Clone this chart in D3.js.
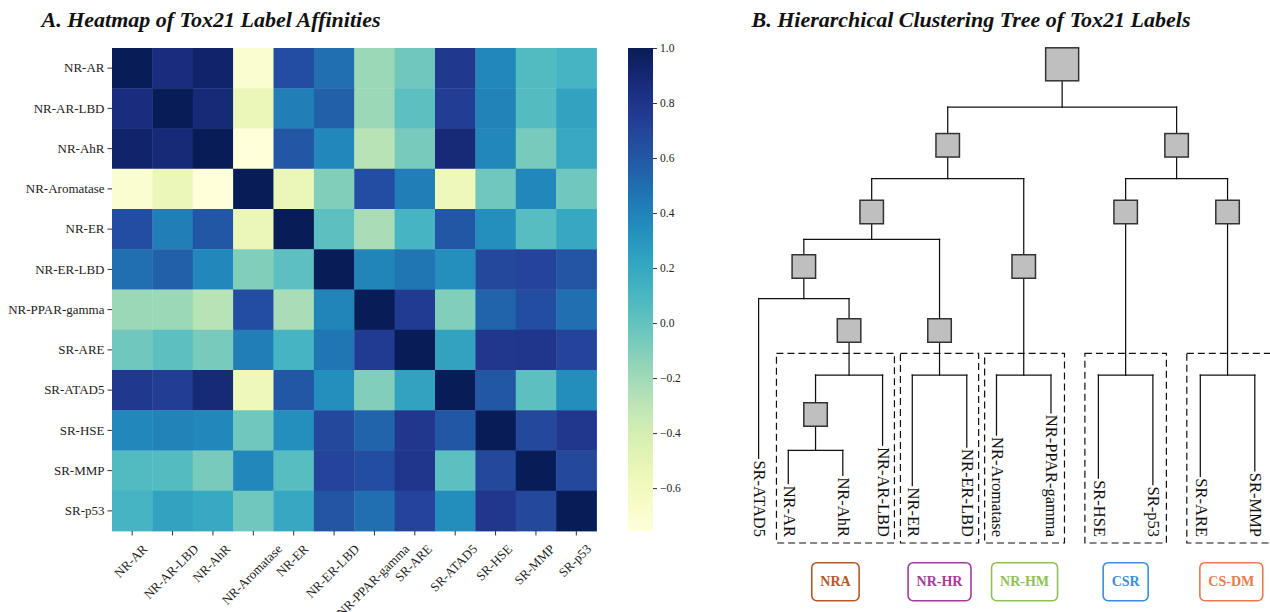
<!DOCTYPE html>
<html><head><meta charset="utf-8">
<script src="https://cdn.jsdelivr.net/npm/d3@7"></script>
<style>
html,body{margin:0;padding:0;background:#fff;}
svg{display:block;}
svg text{font-family:"Liberation Serif","Times New Roman",serif;}
</style></head><body>
<svg id="chart" width="1270" height="612"></svg>
<script>
// ---------------- DATA ----------------
const labels = ["NR-AR","NR-AR-LBD","NR-AhR","NR-Aromatase","NR-ER","NR-ER-LBD","NR-PPAR-gamma","SR-ARE","SR-ATAD5","SR-HSE","SR-MMP","SR-p53"];
const affinity = [
 [1.00,0.86,0.93,-0.70,0.65,0.49,-0.18,-0.04,0.77,0.38,0.07,0.12],
 [0.86,1.00,0.88,-0.54,0.42,0.56,-0.18,0.03,0.74,0.40,0.06,0.23],
 [0.93,0.88,1.00,-0.756,0.60,0.38,-0.28,-0.07,0.88,0.38,-0.07,0.19],
 [-0.70,-0.54,-0.756,1.00,-0.54,-0.10,0.65,0.42,-0.56,-0.04,0.38,-0.04],
 [0.65,0.42,0.60,-0.54,1.00,0.03,-0.23,0.12,0.60,0.34,0.05,0.20],
 [0.49,0.56,0.38,-0.10,0.03,1.00,0.39,0.46,0.34,0.68,0.70,0.61],
 [-0.18,-0.18,-0.28,0.65,-0.23,0.39,1.00,0.755,-0.10,0.54,0.65,0.49],
 [-0.04,0.03,-0.07,0.42,0.12,0.46,0.755,1.00,0.23,0.78,0.79,0.70],
 [0.77,0.74,0.88,-0.56,0.60,0.34,-0.10,0.23,1.00,0.60,0.03,0.35],
 [0.38,0.40,0.38,-0.04,0.34,0.68,0.54,0.78,0.60,1.00,0.68,0.78],
 [0.07,0.06,-0.07,0.38,0.05,0.70,0.65,0.79,0.03,0.68,1.00,0.68],
 [0.12,0.23,0.19,-0.04,0.20,0.61,0.49,0.70,0.35,0.78,0.68,1.00]
];
const colorbarTicks = [1.0,0.8,0.6,0.4,0.2,0.0,-0.2,-0.4,-0.6];
const clusterTree = [[[["SR-ATAD5",[["NR-AR","NR-AhR"],"NR-AR-LBD"]],["NR-ER","NR-ER-LBD"]],["NR-Aromatase","NR-PPAR-gamma"]],[["SR-HSE","SR-p53"],["SR-ARE","SR-MMP"]]];
const groupNames = ["NRA","NR-HR","NR-HM","CSR","CS-DM"];
const groupMembers = [["NR-AR","NR-AhR","NR-AR-LBD"],["NR-ER","NR-ER-LBD"],["NR-Aromatase","NR-PPAR-gamma"],["SR-HSE","SR-p53"],["SR-ARE","SR-MMP"]];
const groupColors = ["#b4582a","#a23b9a","#8dc252","#3a8fdc","#e97a4c"];
const titles = ["A. Heatmap of Tox21 Label Affinities","B. Hierarchical Clustering Tree of Tox21 Labels"];

// ---------------- SETUP ----------------
const svg = d3.select("#chart");
const serif = '"Liberation Serif","Times New Roman",serif';

svg.selectAll("text.title").data(titles).join("text")
  .attr("class","title")
  .attr("x",(d,i)=> i===0 ? 211 : 971)
  .attr("y",27)
  .attr("text-anchor","middle")
  .attr("font-family",serif)
  .attr("font-size",22).attr("font-weight","bold").attr("font-style","italic")
  .attr("fill","#111")
  .text(d=>d);

// ---------------- HEATMAP ----------------
const hm = {x0:112, x1:596.5, y0:48, y1:531};
const x = d3.scaleBand().domain(labels).range([hm.x0,hm.x1]);
const y = d3.scaleBand().domain(labels).range([hm.y0,hm.y1]);
const vext = d3.extent(affinity.flat());
const color = d3.scaleSequential(d3.interpolateYlGnBu).domain(vext);

const cells = [];
affinity.forEach((row,i)=>row.forEach((v,j)=>cells.push({r:labels[i],c:labels[j],v})));
svg.append("g").selectAll("rect").data(cells).join("rect")
  .attr("x",d=>x(d.c)).attr("y",d=>y(d.r))
  .attr("width",x.bandwidth()+0.4).attr("height",y.bandwidth()+0.4)
  .attr("fill",d=>color(d.v));

const yAxis = svg.append("g").attr("transform",`translate(${hm.x0},0)`)
  .call(d3.axisLeft(y).tickSize(4.5).tickPadding(3));
yAxis.attr("font-family",serif);
yAxis.select(".domain").remove();
yAxis.selectAll("text").attr("font-family",serif).attr("font-size",13).attr("fill","#222");
yAxis.selectAll("line").attr("stroke","#333");

const xAxis = svg.append("g").attr("transform",`translate(0,${hm.y1})`)
  .call(d3.axisBottom(x).tickSize(4.5));
xAxis.attr("font-family",serif);
xAxis.select(".domain").remove();
xAxis.selectAll("line").attr("stroke","#333");
xAxis.selectAll("text").attr("font-family",serif).attr("font-size",13).attr("fill","#222")
  .attr("text-anchor","middle").attr("dominant-baseline","central").attr("dy",null)
  .each(function(){
    const L = this.getComputedTextLength();
    const h = (L + 13) * Math.SQRT1_2;
    d3.select(this).attr("y",null).attr("transform",`translate(-1.5,${11 + h/2}) rotate(-45)`);
  });

// colorbar
const cb = {x:628, w:25};
const cbScale = d3.scaleLinear().domain(vext).range([hm.y1,hm.y0]);
const defs = svg.append("defs");
const grad = defs.append("linearGradient").attr("id","cbgrad").attr("x1",0).attr("y1",1).attr("x2",0).attr("y2",0);
grad.selectAll("stop").data(d3.range(0,1.0001,0.02)).join("stop")
  .attr("offset",t=>t).attr("stop-color",t=>color(vext[0]+t*(vext[1]-vext[0])));
svg.append("rect").attr("x",cb.x).attr("y",hm.y0).attr("width",cb.w).attr("height",hm.y1-hm.y0).attr("fill","url(#cbgrad)");
const cAxis = svg.append("g").attr("transform",`translate(${cb.x+cb.w},0)`)
  .call(d3.axisRight(cbScale).tickValues(colorbarTicks).tickFormat(d3.format(".1f")).tickSize(4).tickPadding(3));
cAxis.attr("font-family",serif);
cAxis.select(".domain").remove();
cAxis.selectAll("line").attr("stroke","#333");
cAxis.selectAll("text").attr("font-family",serif).attr("font-size",11.5).attr("fill","#222");

// ---------------- TREE ----------------
const root = d3.hierarchy(clusterTree, d => Array.isArray(d) ? d : null);
const groupOfLeaf = new Map();
groupMembers.forEach((m,gi)=>m.forEach(nm=>groupOfLeaf.set(nm,gi)));
groupMembers.forEach((m,gi)=>{
  const ls = root.leaves().filter(l=>m.includes(l.data));
  const lca = ls[0].ancestors().find(a=>ls.every(l=>l.ancestors().includes(a)));
  lca.group = gi;
});
const topBranch = n => n.ancestors().find(a=>a.depth===1);
function sep(a,b){
  if (a.parent === b.parent) return 1;
  const ga = groupOfLeaf.get(a.data), gb = groupOfLeaf.get(b.data);
  if (ga !== undefined && ga === gb) return 0.73;
  if (topBranch(a) === topBranch(b) && topBranch(a) === root.children[0]) return 0.545;
  return 0.87;
}
d3.cluster().nodeSize([1,1]).separation(sep)(root);
const leaves = root.leaves();
const xT = d3.scaleLinear().domain(d3.extent(leaves,d=>d.x)).range([758.6,1254.8]);

root.eachBefore(n=>{
  if (!n.parent) { n.level = 0; return; }
  const sib = n.parent.children.find(c=>c!==n);
  const pushed = n.group !== undefined && sib && sib.children && sib.group === undefined;
  n.level = n.parent.level + 1 + (pushed ? 1 : 0);
});
const levelY = d3.scaleLinear().domain([0,1,2,3,4,5]).range([64.3,145.3,212,266.5,330.5,414.5]);
const boxSize = n => n.depth === 0 ? 33 : 23.5;
const boxTop = n => levelY(n.level) - boxSize(n)/2;
const boxBottom = n => levelY(n.level) + boxSize(n)/2;
const groupBarY = 375, labelEndY = 537, dashTop = 353.3, dashBottom = 543;

const gT = svg.append("g");
const leafLabels = gT.selectAll("text.leaf").data(leaves).join("text")
  .attr("class","leaf")
  .attr("transform",d=>`translate(${xT(d.x)+0.8},${labelEndY}) rotate(90)`)
  .attr("text-anchor","end").attr("dominant-baseline","central")
  .attr("font-family",serif)
  .attr("font-size",16.5).attr("fill","#111")
  .text(d=>d.data);
leafLabels.each(function(d){ d.labelTop = labelEndY - this.getComputedTextLength(); });

const internal = root.descendants().filter(n=>n.children);
const barY = n => {
  if (n.group !== undefined) return groupBarY;
  const ic = n.children.filter(c=>c.children);
  if (ic.length) return (boxBottom(n) + d3.min(ic,boxTop))/2;
  return boxBottom(n) + 24;
};
const childTop = c => c.children ? boxTop(c) : c.labelTop - 2;
const segs = [];
internal.forEach(n=>{
  const nx = xT(n.x), by = barY(n);
  segs.push([nx,boxBottom(n),nx,by]);
  const cx = n.children.map(c=>xT(c.x));
  segs.push([d3.min(cx),by,d3.max(cx),by]);
  n.children.forEach(c=>segs.push([xT(c.x),by,xT(c.x),childTop(c)]));
});
gT.append("g").selectAll("line").data(segs).join("line")
  .attr("x1",d=>d[0]).attr("y1",d=>d[1]).attr("x2",d=>d[2]).attr("y2",d=>d[3])
  .attr("stroke","#111").attr("stroke-width",1.25).attr("stroke-linecap","square");
gT.append("g").selectAll("rect").data(internal).join("rect")
  .attr("x",n=>xT(n.x)-boxSize(n)/2).attr("y",boxTop)
  .attr("width",boxSize).attr("height",boxSize)
  .attr("fill","#bfbfbf").attr("stroke","#333").attr("stroke-width",1.5);

// dashed group boxes + legend
const order = leaves.slice().sort((a,b)=>a.x-b.x);
const padFor = gap => gap === undefined ? 21 : Math.min(13.5, gap/2 - 3);
const groupBoxes = groupMembers.map((m,gi)=>{
  const idx = order.map((l,i)=>m.includes(l.data)?i:-1).filter(i=>i>=0);
  const f = order[idx[0]], l = order[idx[idx.length-1]];
  const prev = order[idx[0]-1], next = order[idx[idx.length-1]+1];
  const left = xT(f.x) - padFor(prev ? xT(f.x)-xT(prev.x) : undefined);
  const right = xT(l.x) + padFor(next ? xT(next.x)-xT(l.x) : undefined);
  return {gi,left,right};
});
gT.append("g").selectAll("rect").data(groupBoxes).join("rect")
  .attr("x",d=>d.left).attr("y",dashTop).attr("width",d=>d.right-d.left).attr("height",dashBottom-dashTop)
  .attr("fill","none").attr("stroke","#111").attr("stroke-width",1.2).attr("stroke-dasharray","7,4");

const lg = svg.append("g").selectAll("g").data(groupBoxes).join("g")
  .attr("transform",d=>`translate(${(d.left+d.right)/2},581.7)`);
const lgText = lg.append("text").attr("text-anchor","middle").attr("dominant-baseline","central")
  .attr("font-family",serif)
  .attr("font-size",14).attr("font-weight","bold")
  .attr("fill",d=>groupColors[d.gi]).text(d=>groupNames[d.gi]);
lgText.each(function(d){ d.tw = this.getComputedTextLength(); });
lg.insert("rect","text")
  .attr("x",d=>-(d.tw/2+8.5)).attr("y",-19).attr("width",d=>d.tw+17).attr("height",38)
  .attr("rx",5).attr("fill","none").attr("stroke",d=>groupColors[d.gi]).attr("stroke-width",1.6);
</script>
</body></html>
